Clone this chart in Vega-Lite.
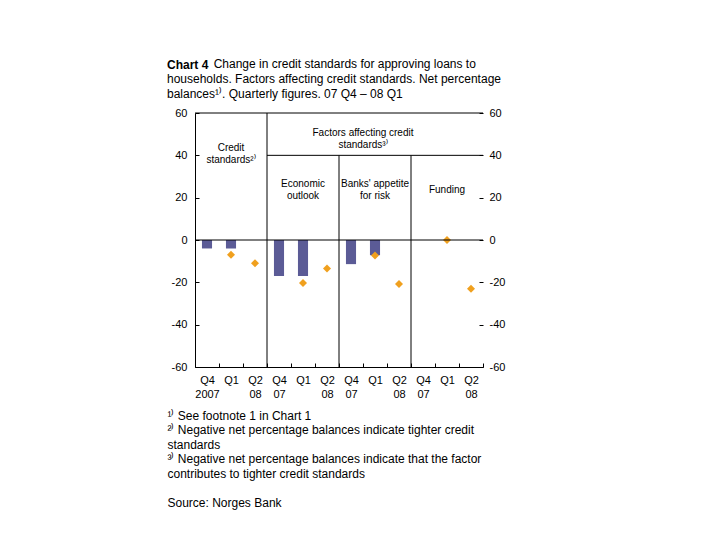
{
  "$schema": "https://vega.github.io/schema/vega-lite/v6.json",
  "autosize": {"type": "none"},
  "width": 288,
  "height": 254,
  "padding": {"top": 113, "left": 195, "right": 237, "bottom": 173},
  "config": {
    "font": "Liberation Sans",
    "view": {"stroke": null},
    "axis": {"labelFont": "Liberation Sans", "titleFont": "Liberation Sans", "labelColor": "#000", "titleColor": "#000", "domainColor": "#000", "tickColor": "#000"}
  },
  "title": {
    "text": "Chart 4",
    "subtitle": ["\u200b\u00a0\u00a0\u00a0\u00a0\u00a0\u00a0\u00a0\u00a0\u00a0\u00a0\u00a0\u00a0\u00a0\u00a0Change in credit standards for approving loans to", "households. Factors affecting credit standards. Net percentage", "balances¹⁾. Quarterly figures. 07 Q4 – 08 Q1"],
    "anchor": "start",
    "frame": "group",
    "dx": -28,
    "fontSize": 12,
    "fontWeight": "bold",
    "color": "#000",
    "subtitleFontSize": 12,
    "subtitleColor": "#000",
    "subtitleLineHeight": 15,
    "subtitlePadding": -13,
    "offset": 5
  },
  "datasets": {
    "survey": [
      {"slot": 1, "group": "Credit standards", "quarter": "Q4 2007", "actual": -4, "expected": null},
      {"slot": 2, "group": "Credit standards", "quarter": "Q1 2008", "actual": -4, "expected": -7},
      {"slot": 3, "group": "Credit standards", "quarter": "Q2 2008", "actual": null, "expected": -11},
      {"slot": 4, "group": "Economic outlook", "quarter": "Q4 2007", "actual": -17, "expected": null},
      {"slot": 5, "group": "Economic outlook", "quarter": "Q1 2008", "actual": -17, "expected": -20.3},
      {"slot": 6, "group": "Economic outlook", "quarter": "Q2 2008", "actual": null, "expected": -13.5},
      {"slot": 7, "group": "Banks' appetite for risk", "quarter": "Q4 2007", "actual": -11.4, "expected": null},
      {"slot": 8, "group": "Banks' appetite for risk", "quarter": "Q1 2008", "actual": -7.2, "expected": -7.3},
      {"slot": 9, "group": "Banks' appetite for risk", "quarter": "Q2 2008", "actual": null, "expected": -20.8},
      {"slot": 10, "group": "Funding", "quarter": "Q4 2007", "actual": 0, "expected": null},
      {"slot": 11, "group": "Funding", "quarter": "Q1 2008", "actual": 0, "expected": 0},
      {"slot": 12, "group": "Funding", "quarter": "Q2 2008", "actual": null, "expected": -23}
    ],
    "hlines": [{"y": 0}, {"y": 60}],
    "dividers": [
      {"slot": 4, "y1": -60, "y2": 60},
      {"slot": 7, "y1": -60, "y2": 40},
      {"slot": 10, "y1": -60, "y2": 40}
    ],
    "header": [{"from": 4, "to": 12, "y": 40}],
    "labels": [
      {"slot": 2, "y": 43.3, "label": "Credit\nstandards²⁾"},
      {"slot": 5, "y": 26.3, "label": "Economic\noutlook"},
      {"slot": 8, "y": 26.3, "label": "Banks' appetite\nfor risk"},
      {"slot": 11, "y": 23.6, "label": "Funding"}
    ],
    "toplabel": [{"slot": 8, "y": 50.7, "label": "Factors affecting credit\nstandards³⁾"}]
  },
  "resolve": {"axis": {"y": "independent"}},
  "layer": [
    {
      "data": {"name": "survey"},
      "mark": {"type": "bar", "color": "#5B5B96", "width": {"band": 0.42}},
      "encoding": {
        "x": {
          "field": "slot", "type": "ordinal",
          "scale": {"paddingInner": 0, "paddingOuter": 0},
          "axis": {
            "orient": "bottom",
            "labelAngle": 0,
            "labelExpr": "[['Q4','2007'],['Q1'],['Q2','08'],['Q4','07'],['Q1'],['Q2','08'],['Q4','07'],['Q1'],['Q2','08'],['Q4','07'],['Q1'],['Q2','08']][datum.value - 1]",
            "labelFontSize": 11,
            "labelLineHeight": 14,
            "labelPadding": 11,
            "labelBaseline": "top",
            "tickBand": "extent",
            "tickSize": -4,
            "domain": true,
            "title": ["¹⁾ See footnote 1 in Chart 1", "²⁾ Negative net percentage balances indicate tighter credit", "standards", "³⁾ Negative net percentage balances indicate that the factor", "contributes to tighter credit standards", "\u200b", "Source: Norges Bank"],
            "titleFontSize": 12,
            "titleFontWeight": "normal",
            "titleLineHeight": 14.5,
            "titleAnchor": "start",
            "titleAlign": "left",
            "titleBaseline": "alphabetic",
            "titleX": -28,
            "titleY": 52
          }
        },
        "y": {
          "field": "actual", "type": "quantitative",
          "scale": {"domain": [-60, 60], "nice": false},
          "axis": {"orient": "left", "values": [-60, -40, -20, 0, 20, 40, 60], "labelExpr": "'' + datum.value", "grid": false, "domain": true, "tickSize": -4, "labelPadding": 12, "labelFontSize": 11, "title": null}
        }
      }
    },
    {
      "data": {"name": "survey"},
      "mark": {"type": "point", "shape": "diamond", "filled": true, "color": "#F0A01E", "size": 64, "opacity": 1},
      "encoding": {
        "x": {"field": "slot", "type": "ordinal"},
        "y": {
          "field": "expected", "type": "quantitative",
          "axis": {"orient": "right", "values": [-60, -40, -20, 0, 20, 40, 60], "labelExpr": "'' + datum.value", "grid": false, "domain": false, "tickSize": -4, "labelPadding": 10, "labelFontSize": 11, "title": null}
        }
      }
    },
    {
      "data": {"name": "hlines"},
      "mark": {"type": "rule", "color": "#000", "strokeWidth": 1},
      "encoding": {"y": {"field": "y", "type": "quantitative", "axis": null}}
    },
    {
      "data": {"name": "dividers"},
      "mark": {"type": "rule", "color": "#000", "strokeWidth": 1},
      "encoding": {
        "x": {"field": "slot", "type": "ordinal", "bandPosition": 0},
        "y": {"field": "y1", "type": "quantitative", "axis": null},
        "y2": {"field": "y2"}
      }
    },
    {
      "data": {"name": "header"},
      "mark": {"type": "rule", "color": "#000", "strokeWidth": 1},
      "encoding": {
        "x": {"field": "from", "type": "ordinal", "bandPosition": 0},
        "x2": {"field": "to", "bandPosition": 1},
        "y": {"field": "y", "type": "quantitative", "axis": null}
      }
    },
    {
      "data": {"name": "labels"},
      "mark": {"type": "text", "fontSize": 10, "lineBreak": "\n", "lineHeight": 12, "baseline": "middle", "align": "center", "color": "#000"},
      "encoding": {
        "x": {"field": "slot", "type": "ordinal"},
        "y": {"field": "y", "type": "quantitative", "axis": null},
        "text": {"field": "label"}
      }
    },
    {
      "data": {"name": "toplabel"},
      "mark": {"type": "text", "fontSize": 10, "lineBreak": "\n", "lineHeight": 12, "baseline": "middle", "align": "center", "color": "#000"},
      "encoding": {
        "x": {"field": "slot", "type": "ordinal", "bandPosition": 0},
        "y": {"field": "y", "type": "quantitative", "axis": null},
        "text": {"field": "label"}
      }
    }
  ]
}
